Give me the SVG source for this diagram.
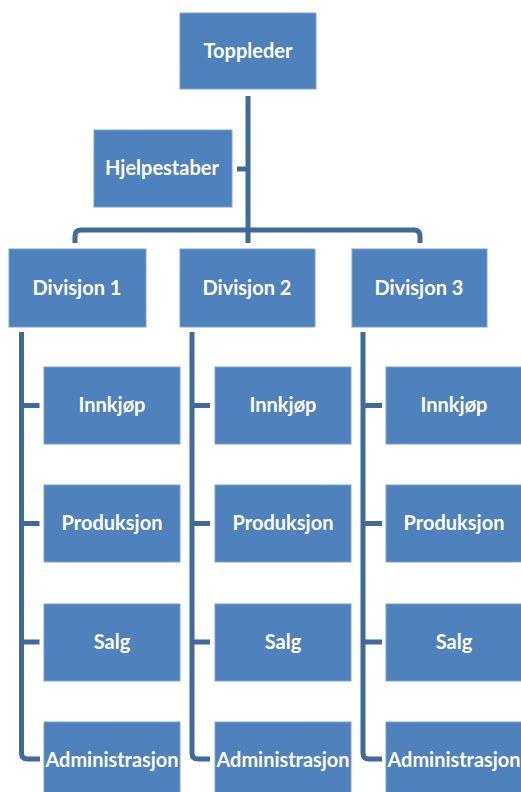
<svg xmlns="http://www.w3.org/2000/svg" width="521" height="792" viewBox="0 0 521 792">
<style>
.box{fill:#4f81bd;stroke:#7fa2cf;stroke-width:1}
.lbl{fill:#ffffff;font-family:Lato,"Open Sans","DejaVu Sans",sans-serif;font-weight:bold;font-size:20px;text-anchor:middle}
.con{fill:none;stroke:#41699c;stroke-width:5;stroke-linejoin:round}
</style>
<rect width="521" height="792" fill="#ffffff"/>
<g id="connectors">
<path class="con" d="M248,96 V243"/>
<path class="con" d="M237,169 H248"/>
<path class="con" d="M75,243 V236 Q75,230 81,230 H414 Q420,230 420,236 V243"/>
<path class="con" d="M21.5,332 V753 Q21.5,759 27.5,759 H40"/>
<path class="con" d="M21.5,405.5 H39.5 M21.5,523.5 H39.5 M21.5,642 H39.5"/>
<path class="con" d="M192,332 V753 Q192,759 198,759 H210"/>
<path class="con" d="M192,405.5 H210 M192,523.5 H210 M192,642 H210"/>
<path class="con" d="M363,332 V753 Q363,759 369,759 H382"/>
<path class="con" d="M363,405.5 H382 M363,523.5 H382 M363,642 H382"/>
</g>
<g id="toppleder"><rect class="box" x="180" y="13" width="136" height="76"/><text class="lbl" x="248" y="58">Toppleder</text></g>
<g id="hjelpestaber"><rect class="box" x="94" y="130" width="138" height="77"/><text class="lbl" x="162" y="175">Hjelpestaber</text></g>
<g id="div1"><rect class="box" x="9" y="249" width="137" height="78"/><text class="lbl" x="77" y="295">Divisjon 1</text></g>
<g id="div2"><rect class="box" x="180" y="249" width="135" height="78"/><text class="lbl" x="247" y="295">Divisjon 2</text></g>
<g id="div3"><rect class="box" x="352" y="249" width="135" height="78"/><text class="lbl" x="419" y="295">Divisjon 3</text></g>
<g id="d1-innkjop"><rect class="box" x="44" y="367" width="136" height="77"/><text class="lbl" x="112" y="412">Innkjøp</text></g>
<g id="d1-produksjon"><rect class="box" x="44" y="485" width="136" height="77"/><text class="lbl" x="112" y="530">Produksjon</text></g>
<g id="d1-salg"><rect class="box" x="44" y="604" width="136" height="77"/><text class="lbl" x="112" y="649">Salg</text></g>
<g id="d1-admin"><rect class="box" x="44" y="722" width="136" height="77"/><text class="lbl" x="112" y="767" textLength="133" lengthAdjust="spacingAndGlyphs">Administrasjon</text></g>
<g id="d2-innkjop"><rect class="box" x="215" y="367" width="136" height="77"/><text class="lbl" x="283" y="412">Innkjøp</text></g>
<g id="d2-produksjon"><rect class="box" x="215" y="485" width="136" height="77"/><text class="lbl" x="283" y="530">Produksjon</text></g>
<g id="d2-salg"><rect class="box" x="215" y="604" width="136" height="77"/><text class="lbl" x="283" y="649">Salg</text></g>
<g id="d2-admin"><rect class="box" x="215" y="722" width="136" height="77"/><text class="lbl" x="283" y="767" textLength="133" lengthAdjust="spacingAndGlyphs">Administrasjon</text></g>
<g id="d3-innkjop"><rect class="box" x="386" y="367" width="136" height="77"/><text class="lbl" x="454" y="412">Innkjøp</text></g>
<g id="d3-produksjon"><rect class="box" x="386" y="485" width="136" height="77"/><text class="lbl" x="454" y="530">Produksjon</text></g>
<g id="d3-salg"><rect class="box" x="386" y="604" width="136" height="77"/><text class="lbl" x="454" y="649">Salg</text></g>
<g id="d3-admin"><rect class="box" x="386" y="722" width="136" height="77"/><text class="lbl" x="454" y="767" textLength="133" lengthAdjust="spacingAndGlyphs">Administrasjon</text></g>
</svg>
